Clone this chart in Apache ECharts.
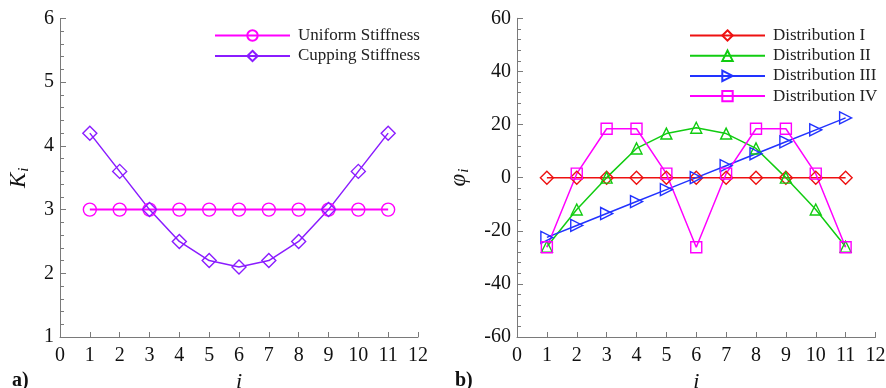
<!DOCTYPE html>
<html>
<head>
<meta charset="utf-8">
<script src="https://cdn.jsdelivr.net/npm/echarts@6/dist/echarts.min.js"></script>
<style>
  html, body { margin: 0; padding: 0; background: #fff; }
  #chart { width: 886px; height: 388px; }
</style>
</head>
<body>
<div id="chart"></div>
<script>
// Node index along both panels
const nodeIndex = [1, 2, 3, 4, 5, 6, 7, 8, 9, 10, 11];

// Panel a): stiffness profiles
const uniformStiffness = [3, 3, 3, 3, 3, 3, 3, 3, 3, 3, 3];
const cuppingStiffness = [4.2, 3.6, 3.0, 2.5, 2.2, 2.1, 2.2, 2.5, 3.0, 3.6, 4.2];

// Panel b): phase distributions
const distributionI   = [0, 0, 0, 0, 0, 0, 0, 0, 0, 0, 0];
const distributionII  = [-26, -12, 0, 11, 16.6, 18.8, 16.6, 11, 0, -12, -26];
const distributionIII = [-22.5, -18, -13.5, -9, -4.5, 0, 4.5, 9, 13.5, 18, 22.5];
const distributionIV  = [-26.2, 1.5, 18.4, 18.4, 1.5, -26.2, 1.5, 18.4, 18.4, 1.5, -26.2];

// Axis ranges and tick steps
const xTicks = { min: 0, max: 12, step: 1 };
const kTicks = { min: 1, max: 6, step: 1 };
const phiTicks = { min: -60, max: 60, step: 20 };

const FONT = '"Liberation Serif", "Times New Roman", serif';
const AXIS_GRAY = '#7a7a7a';

const pairs = (ys) => nodeIndex.map((x, k) => [x, ys[k]]);

function xAxisFor(gridIndex) {
  return {
    type: 'value', gridIndex,
    min: xTicks.min, max: xTicks.max, interval: xTicks.step,
    name: 'i', nameLocation: 'middle', nameGap: 31,
    nameTextStyle: { fontFamily: FONT, fontStyle: 'italic', fontSize: 22, color: '#111' },
    axisLine: { show: true, onZero: false, lineStyle: { color: AXIS_GRAY, width: 1 } },
    axisTick: { show: true, inside: true, length: 5, lineStyle: { color: AXIS_GRAY } },
    axisLabel: { fontFamily: FONT, fontSize: 20, color: '#111', margin: 9 },
    splitLine: { show: false }
  };
}

function yAxisFor(gridIndex, ticks, nameBase) {
  return {
    type: 'value', gridIndex,
    min: ticks.min, max: ticks.max, interval: ticks.step,
    name: '{b|' + nameBase + '}{s|i}',
    nameLocation: 'middle', nameRotate: 90, nameGap: gridIndex === 0 ? 28 : 45,
    nameTextStyle: {
      fontFamily: FONT, color: '#111',
      rich: {
        b: { fontFamily: FONT, fontStyle: 'italic', fontSize: 23, color: '#111', lineHeight: 26 },
        s: { fontFamily: FONT, fontStyle: 'italic', fontSize: 15, color: '#111', lineHeight: 26, verticalAlign: 'bottom', padding: [8, 0, 0, 1] }
      }
    },
    axisLine: { show: true, onZero: false, lineStyle: { color: AXIS_GRAY, width: 1 } },
    axisTick: { show: true, inside: true, length: 6, lineStyle: { color: AXIS_GRAY } },
    minorTick: { show: true, splitNumber: 5, length: 4, lineStyle: { color: AXIS_GRAY } },
    axisLabel: { fontFamily: FONT, fontSize: 20, color: '#111', margin: 6 },
    splitLine: { show: false }
  };
}

function lineSeries(name, data, color, symbol, size, extra) {
  return Object.assign({
    name, type: 'line', data: pairs(data),
    symbol, symbolSize: size, showAllSymbol: true,
    lineStyle: { color, width: 1.5 },
    itemStyle: { color: 'rgba(255,255,255,0)', borderColor: color, borderWidth: 1.4 },
    emphasis: { disabled: true },
    z: 3
  }, extra || {});
}

const legendText = {
  fontFamily: FONT, fontSize: 17, color: '#222', lineHeight: 15, padding: [0, 0, 0, 3]
};

const option = {
  animation: false,
  backgroundColor: '#fff',
  title: [
    { text: 'a)', left: 7, top: 366, textStyle: { fontFamily: FONT, fontWeight: 'bold', fontSize: 20, color: '#111' } },
    { text: 'b)', left: 450, top: 366, textStyle: { fontFamily: FONT, fontWeight: 'bold', fontSize: 20, color: '#111' } }
  ],
  grid: [
    { left: 60, right: 468, top: 18.5, bottom: 51, outerBoundsMode: 'none', containLabel: false },
    { left: 517, right: 10.5, top: 18.3, bottom: 51, outerBoundsMode: 'none', containLabel: false }
  ],
  xAxis: [xAxisFor(0), xAxisFor(1)],
  yAxis: [yAxisFor(0, kTicks, 'K'), yAxisFor(1, phiTicks, 'φ')],
  legend: [
    {
      orient: 'vertical', left: 209, top: 22,
      itemWidth: 75, itemHeight: 13, itemGap: 3.5,
      textStyle: legendText,
      data: ['Uniform Stiffness', 'Cupping Stiffness']
    },
    {
      orient: 'vertical', left: 684, top: 22,
      itemWidth: 75, itemHeight: 13, itemGap: 3.2,
      textStyle: legendText,
      data: ['Distribution I', 'Distribution II', 'Distribution III', 'Distribution IV']
    }
  ],
  series: [
    lineSeries('Uniform Stiffness', uniformStiffness, '#ff00ff', 'circle', 13, { lineStyle: { color: '#ff00ff', width: 2 } }),
    lineSeries('Cupping Stiffness', cuppingStiffness, '#8a1cff', 'diamond', 14),
    lineSeries('Distribution I', distributionI, '#ee1111', 'diamond', 13, { xAxisIndex: 1, yAxisIndex: 1 }),
    lineSeries('Distribution II', distributionII, '#11cc11', 'triangle', 11, { xAxisIndex: 1, yAxisIndex: 1 }),
    lineSeries('Distribution III', distributionIII, '#2233ff', 'triangle', 12, { xAxisIndex: 1, yAxisIndex: 1, symbolRotate: -90 }),
    lineSeries('Distribution IV', distributionIV, '#ff00ff', 'rect', 11, { xAxisIndex: 1, yAxisIndex: 1 })
  ]
};

const chart = echarts.init(document.getElementById('chart'), null, { renderer: 'canvas' });
chart.setOption(option);
</script>
</body>
</html>
